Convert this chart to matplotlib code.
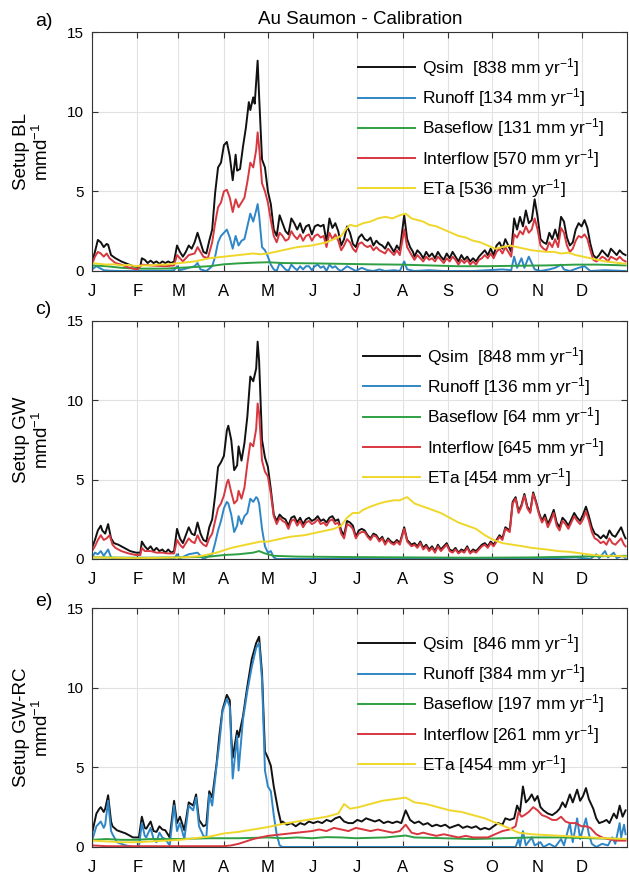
import matplotlib
matplotlib.use('Agg')
import matplotlib.pyplot as plt

plt.rcParams['font.family'] = ['Liberation Sans', 'DejaVu Sans']
plt.rcParams['mathtext.fontset'] = 'custom'
plt.rcParams['mathtext.rm'] = 'Liberation Sans'
plt.rcParams['mathtext.default'] = 'regular'

# month starts (day of year) and labels
month_days = [0, 31, 59, 90, 120, 151, 181, 212, 243, 273, 304, 334]
month_labels = ['J', 'F', 'M', 'A', 'M', 'J', 'J', 'A', 'S', 'O', 'N', 'D']

series_names = ['Qsim ', 'Runoff', 'Baseflow', 'Interflow', 'ETa']
colors = ['#111111', '#2f86c6', '#2ea043', '#d8373f', '#efd72a']

# ---- a) Setup BL  (day, mm/d) ----
bl_qsim = [(0, 0.5), (2, 1.2), (4, 1.95), (6, 1.8), (8, 1.5), (10, 1.7), (11, 1.65), (13, 1.0), (16, 0.8),
           (20, 0.6), (24, 0.45), (28, 0.3), (31, 0.25), (33, 0.3), (34, 0.8), (36, 0.7), (38, 0.5), (40, 0.65),
           (42, 0.5), (44, 0.6), (46, 0.45), (48, 0.6), (50, 0.5), (52, 0.6), (54, 0.5), (56, 0.6), (58, 1.6),
           (60, 1.2), (62, 0.9), (64, 1.2), (66, 1.6), (68, 1.4), (70, 1.8), (72, 2.4), (74, 1.8), (76, 1.2),
           (78, 1.1), (80, 1.9), (82, 2.6), (84, 4.9), (86, 6.5), (88, 6.8), (90, 7.9), (92, 8.1), (94, 7.2),
           (96, 5.7), (98, 7.3), (99, 6.3), (101, 6.4), (103, 7.8), (105, 9.0), (107, 10.6), (108, 10.1),
           (110, 10.9), (111, 10.5), (113, 13.2), (114, 11.0), (116, 7.0), (118, 6.5), (120, 5.0), (122, 4.2),
           (124, 2.6), (126, 2.2), (128, 3.5), (130, 3.0), (132, 2.5), (134, 2.3), (136, 3.3), (138, 3.0),
           (140, 2.6), (142, 3.0), (144, 2.4), (146, 2.8), (148, 2.9), (150, 2.3), (152, 2.8), (154, 2.9),
           (156, 2.8), (158, 2.9), (160, 1.8), (162, 3.3), (164, 2.7), (166, 3.0), (168, 2.5), (170, 1.6),
           (172, 2.0), (174, 2.8), (176, 2.4), (178, 1.7), (180, 1.5), (182, 2.1), (184, 2.3), (186, 2.0),
           (188, 1.9), (190, 2.1), (192, 1.6), (194, 1.9), (196, 1.7), (198, 1.6), (200, 1.4), (202, 1.8),
           (204, 1.5), (206, 1.2), (208, 1.6), (210, 1.3), (213, 3.5), (215, 2.0), (217, 1.5), (219, 1.2),
           (220, 0.9), (222, 1.3), (224, 1.1), (226, 0.8), (228, 1.2), (230, 0.9), (232, 1.1), (234, 0.8),
           (236, 1.2), (238, 0.9), (240, 0.7), (242, 1.1), (244, 0.8), (246, 1.2), (248, 0.9), (250, 0.6),
           (252, 1.0), (254, 0.7), (256, 0.9), (258, 0.6), (260, 0.8), (262, 0.6), (264, 0.9), (266, 1.1),
           (268, 1.3), (270, 1.0), (272, 1.4), (274, 1.0), (276, 1.6), (278, 1.8), (280, 1.4), (282, 2.0),
           (284, 1.6), (286, 1.2), (288, 3.3), (290, 2.6), (292, 3.4), (294, 2.8), (296, 3.8), (298, 3.0),
           (300, 3.2), (302, 4.5), (304, 3.4), (306, 2.0), (308, 1.8), (310, 1.7), (312, 2.4), (314, 2.0),
           (316, 2.6), (318, 2.0), (320, 3.4), (322, 3.1), (324, 2.1), (326, 1.6), (328, 1.8), (330, 2.6),
           (332, 3.0), (334, 2.8), (336, 3.2), (338, 2.7), (340, 1.7), (342, 1.0), (344, 0.8), (346, 1.0),
           (348, 1.3), (350, 1.1), (352, 0.9), (354, 1.4), (356, 1.2), (358, 1.0), (360, 1.3), (362, 1.1),
           (364, 1.0)]
bl_runoff = [(0, 0.1), (3, 0.3), (5, 0.2), (8, 0.05), (12, 0.02), (20, 0.0), (30, 0.0), (40, 0.02), (50, 0.0),
             (56, 0.05), (58, 0.3), (60, 0.05), (66, 0.2), (70, 0.3), (72, 0.5), (74, 0.1), (78, 0.0),
             (82, 0.3), (84, 0.9), (86, 1.8), (88, 2.2), (90, 2.4), (92, 2.6), (94, 2.1), (96, 1.4), (98, 2.2),
             (100, 1.6), (102, 1.9), (104, 2.0), (106, 2.8), (108, 3.6), (110, 3.1), (112, 3.8), (113, 4.2),
             (114, 3.5), (116, 1.5), (118, 1.3), (120, 0.9), (122, 0.4), (124, 0.1), (126, 0.0), (128, 0.5),
             (130, 0.3), (132, 0.1), (134, 0.0), (136, 0.4), (138, 0.2), (140, 0.05), (142, 0.3), (144, 0.1),
             (146, 0.3), (148, 0.3), (150, 0.05), (152, 0.3), (154, 0.4), (156, 0.2), (158, 0.3), (160, 0.0),
             (162, 0.4), (164, 0.2), (166, 0.3), (168, 0.1), (170, 0.0), (174, 0.3), (176, 0.2), (180, 0.0),
             (184, 0.2), (188, 0.05), (192, 0.0), (196, 0.1), (200, 0.0), (206, 0.05), (210, 0.0), (213, 0.6),
             (215, 0.1), (220, 0.0), (230, 0.05), (240, 0.0), (250, 0.0), (260, 0.0), (270, 0.05), (280, 0.1),
             (286, 0.05), (288, 0.9), (290, 0.2), (293, 0.8), (295, 0.2), (298, 0.9), (300, 0.5), (302, 0.1),
             (306, 0.0), (312, 0.1), (316, 0.2), (320, 0.4), (322, 0.1), (326, 0.0), (332, 0.2), (336, 0.3),
             (340, 0.0), (350, 0.05), (364, 0.0)]
bl_base = [(0, 0.35), (10, 0.3), (20, 0.2), (30, 0.15), (40, 0.15), (50, 0.15), (60, 0.2), (70, 0.25),
           (80, 0.3), (90, 0.42), (100, 0.48), (110, 0.52), (120, 0.55), (130, 0.5), (150, 0.48), (170, 0.45),
           (190, 0.42), (210, 0.4), (230, 0.35), (250, 0.3), (270, 0.3), (290, 0.33), (310, 0.35), (330, 0.4),
           (345, 0.4), (364, 0.35)]
bl_inter = [(0, 0.4), (2, 0.9), (4, 1.2), (6, 1.1), (8, 0.9), (10, 1.1), (12, 0.8), (16, 0.5), (20, 0.4),
            (24, 0.25), (28, 0.15), (31, 0.1), (34, 0.4), (40, 0.35), (50, 0.3), (56, 0.35), (58, 1.0),
            (62, 0.6), (66, 1.0), (70, 1.1), (72, 1.5), (76, 0.9), (79, 0.8), (82, 1.8), (84, 3.0), (86, 4.0),
            (88, 4.3), (90, 5.0), (92, 5.1), (94, 4.6), (96, 3.7), (98, 4.5), (100, 4.0), (102, 4.3),
            (104, 4.6), (106, 5.6), (108, 6.8), (110, 6.5), (112, 7.6), (113, 8.7), (114, 7.8), (116, 5.5),
            (118, 5.0), (120, 4.3), (122, 3.2), (124, 2.2), (126, 1.8), (128, 2.4), (130, 2.2), (132, 1.9),
            (134, 2.0), (136, 2.5), (138, 2.2), (140, 2.0), (142, 2.3), (144, 1.9), (146, 2.2), (148, 2.3),
            (150, 1.9), (152, 2.2), (154, 2.3), (156, 2.1), (158, 2.2), (160, 1.5), (162, 2.4), (164, 2.0),
            (166, 2.3), (168, 1.9), (170, 1.3), (172, 1.6), (174, 2.0), (176, 1.8), (178, 1.4), (180, 1.2),
            (182, 1.7), (184, 1.8), (186, 1.6), (188, 1.5), (190, 1.6), (192, 1.3), (194, 1.5), (196, 1.3),
            (198, 1.2), (200, 1.1), (202, 1.4), (204, 1.2), (206, 1.0), (208, 1.3), (210, 1.0), (213, 2.6),
            (215, 1.5), (218, 1.0), (220, 0.7), (222, 1.0), (224, 0.8), (226, 0.6), (228, 0.9), (230, 0.7),
            (232, 0.8), (234, 0.6), (236, 0.9), (238, 0.7), (240, 0.5), (242, 0.8), (244, 0.6), (246, 0.9),
            (248, 0.7), (250, 0.4), (252, 0.7), (254, 0.5), (256, 0.7), (258, 0.4), (260, 0.6), (262, 0.4),
            (264, 0.7), (266, 0.8), (268, 1.0), (270, 0.8), (272, 1.1), (274, 0.8), (276, 1.2), (278, 1.4),
            (280, 1.1), (282, 1.5), (284, 1.2), (286, 0.9), (288, 2.3), (290, 2.1), (292, 2.5), (294, 2.3),
            (296, 2.8), (298, 2.4), (300, 2.6), (302, 3.3), (304, 2.6), (306, 1.6), (308, 1.4), (310, 1.3),
            (312, 1.8), (314, 1.5), (316, 2.0), (318, 1.5), (320, 2.7), (322, 2.4), (324, 1.6), (326, 1.2),
            (328, 1.4), (330, 1.9), (332, 2.2), (334, 2.1), (336, 2.3), (338, 2.0), (340, 1.3), (342, 0.7),
            (344, 0.6), (346, 0.7), (348, 0.9), (350, 0.8), (352, 0.6), (354, 0.9), (356, 0.8), (358, 0.7),
            (360, 0.9), (362, 0.7), (364, 0.6)]
bl_eta = [(0, 0.5), (5, 0.45), (10, 0.4), (15, 0.42), (20, 0.35), (25, 0.38), (30, 0.3), (35, 0.35), (40, 0.35),
          (45, 0.4), (50, 0.4), (55, 0.45), (60, 0.5), (65, 0.55), (70, 0.6), (75, 0.7), (80, 0.8), (85, 0.85),
          (90, 0.9), (95, 0.95), (100, 1.0), (105, 1.05), (110, 1.1), (115, 1.05), (120, 1.1), (125, 1.2),
          (130, 1.3), (135, 1.4), (140, 1.5), (145, 1.55), (150, 1.6), (155, 1.7), (160, 1.8), (165, 2.0),
          (170, 2.2), (173, 2.6), (176, 2.9), (180, 2.8), (185, 3.0), (190, 3.1), (195, 3.3), (200, 3.4),
          (205, 3.3), (210, 3.5), (214, 3.6), (218, 3.3), (222, 3.2), (226, 3.1), (230, 2.9), (235, 2.8),
          (240, 2.6), (245, 2.4), (250, 2.2), (255, 2.1), (260, 1.9), (265, 1.8), (270, 1.6), (275, 1.4),
          (280, 1.5), (285, 1.6), (290, 1.5), (295, 1.4), (300, 1.3), (305, 1.25), (310, 1.2), (315, 1.2),
          (320, 1.1), (325, 1.15), (330, 1.0), (335, 0.9), (340, 0.8), (345, 0.7), (350, 0.6), (355, 0.55),
          (364, 0.45)]

# ---- c) Setup GW ----
gw_qsim = [(0, 0.7), (2, 1.2), (4, 1.8), (6, 2.1), (7, 1.8), (9, 1.6), (11, 2.2), (13, 1.3), (15, 1.0),
           (18, 0.9), (22, 0.7), (26, 0.5), (30, 0.4), (33, 0.4), (34, 1.1), (36, 0.8), (38, 0.6), (40, 0.8),
           (42, 0.5), (44, 0.7), (46, 0.5), (48, 0.6), (50, 0.4), (52, 0.6), (54, 0.4), (56, 0.5), (58, 1.9),
           (60, 1.3), (62, 1.0), (64, 1.5), (66, 2.0), (68, 1.6), (70, 1.5), (72, 2.3), (74, 1.6), (76, 1.2),
           (78, 1.1), (80, 2.0), (82, 2.5), (84, 4.0), (86, 5.8), (88, 6.1), (90, 6.5), (92, 8.1), (93, 8.4),
           (95, 7.5), (97, 5.6), (99, 5.9), (100, 7.1), (102, 6.2), (104, 7.3), (106, 9.0), (108, 11.5),
           (110, 11.2), (112, 12.0), (113, 13.7), (114, 12.5), (116, 7.5), (118, 6.4), (120, 5.8), (122, 4.4),
           (124, 2.8), (126, 2.4), (128, 2.8), (130, 2.6), (132, 2.5), (134, 2.1), (136, 2.6), (138, 2.7),
           (140, 2.3), (142, 2.6), (144, 2.2), (146, 2.5), (148, 2.6), (150, 2.4), (152, 2.5), (154, 2.7),
           (156, 2.4), (158, 2.5), (160, 2.3), (162, 2.6), (164, 2.7), (166, 2.4), (168, 2.5), (170, 1.8),
           (172, 1.5), (174, 2.4), (176, 2.3), (178, 2.1), (180, 1.4), (182, 1.8), (184, 1.9), (186, 1.8),
           (188, 1.5), (190, 1.3), (192, 1.6), (194, 1.5), (196, 1.2), (198, 1.4), (200, 1.0), (202, 1.3),
           (204, 1.1), (206, 1.0), (208, 1.2), (210, 1.0), (213, 2.0), (215, 1.2), (218, 0.9), (220, 1.0),
           (222, 0.8), (224, 1.1), (226, 0.7), (228, 0.9), (230, 0.6), (232, 0.8), (234, 0.5), (236, 0.9),
           (238, 0.6), (240, 0.8), (242, 1.0), (244, 0.6), (246, 0.5), (248, 0.7), (250, 0.4), (252, 0.6),
           (254, 0.5), (256, 0.8), (258, 0.4), (260, 0.6), (262, 0.5), (264, 0.7), (266, 0.9), (268, 1.0),
           (270, 0.8), (272, 1.1), (274, 0.9), (276, 1.2), (278, 1.5), (280, 1.3), (282, 2.0), (285, 1.8),
           (287, 3.6), (289, 3.9), (291, 3.0), (293, 3.4), (295, 4.1), (297, 3.3), (299, 3.0), (301, 4.2),
           (303, 3.6), (305, 2.9), (307, 2.4), (309, 2.8), (311, 2.2), (313, 2.6), (315, 3.1), (317, 2.3),
           (319, 2.0), (321, 2.6), (323, 2.4), (325, 2.1), (327, 2.5), (329, 2.9), (331, 2.6), (333, 2.4),
           (335, 2.8), (337, 3.3), (339, 2.7), (341, 2.0), (343, 1.6), (345, 1.5), (347, 1.3), (349, 1.5),
           (351, 1.3), (353, 1.8), (355, 1.5), (357, 1.4), (359, 1.7), (361, 2.0), (363, 1.5), (364, 1.3)]
gw_runoff = [(0, 0.1), (2, 0.4), (4, 0.3), (6, 0.5), (8, 0.2), (11, 0.6), (13, 0.1), (16, 0.0), (30, 0.0),
             (56, 0.0), (58, 0.3), (60, 0.05), (66, 0.3), (72, 0.4), (76, 0.0), (82, 0.3), (84, 1.0), (86, 1.8),
             (88, 2.4), (90, 3.2), (92, 3.6), (93, 3.5), (95, 2.8), (97, 1.7), (99, 2.1), (100, 2.7), (102, 2.2),
             (104, 2.7), (106, 2.9), (108, 3.8), (110, 3.6), (112, 3.9), (113, 3.8), (114, 3.5), (116, 1.9),
             (118, 0.8), (120, 0.4), (122, 0.5), (124, 0.1), (126, 0.0), (200, 0.0), (280, 0.0), (300, 0.0),
             (330, 0.1), (340, 0.0), (344, 0.3), (346, 0.05), (350, 0.5), (352, 0.1), (356, 0.4), (358, 0.05),
             (362, 0.2), (364, 0.05)]
gw_base = [(0, 0.1), (30, 0.08), (60, 0.1), (80, 0.15), (90, 0.25), (100, 0.3), (110, 0.4), (114, 0.5),
           (118, 0.35), (124, 0.2), (140, 0.15), (180, 0.12), (220, 0.1), (260, 0.08), (300, 0.1), (330, 0.15),
           (364, 0.2)]
gw_inter = [(0, 0.5), (2, 0.8), (4, 1.2), (6, 1.5), (8, 1.2), (10, 1.3), (12, 1.5), (14, 0.9), (16, 0.7),
            (20, 0.5), (25, 0.35), (30, 0.25), (33, 0.25), (34, 0.7), (36, 0.5), (40, 0.5), (44, 0.4), (48, 0.4),
            (52, 0.35), (56, 0.35), (58, 1.2), (60, 0.9), (62, 0.7), (64, 1.0), (66, 1.3), (68, 1.1), (70, 1.0),
            (72, 1.5), (74, 1.1), (76, 0.9), (78, 0.8), (80, 1.3), (82, 1.6), (84, 2.4), (86, 3.2), (88, 3.5),
            (90, 4.0), (92, 4.8), (93, 5.0), (95, 4.2), (97, 3.5), (99, 3.7), (100, 4.3), (102, 3.8), (104, 4.5),
            (106, 6.0), (108, 7.3), (110, 7.1), (112, 8.2), (113, 9.8), (114, 9.2), (116, 6.2), (118, 5.5),
            (120, 5.2), (122, 4.1), (124, 2.7), (126, 2.2), (128, 2.6), (130, 2.4), (132, 2.3), (134, 1.9),
            (136, 2.4), (138, 2.5), (140, 2.1), (142, 2.4), (144, 2.0), (146, 2.3), (148, 2.4), (150, 2.2),
            (152, 2.3), (154, 2.5), (156, 2.2), (158, 2.3), (160, 2.1), (162, 2.4), (164, 2.5), (166, 2.2),
            (168, 2.3), (170, 1.6), (172, 1.3), (174, 2.2), (176, 2.1), (178, 1.9), (180, 1.3), (182, 1.6),
            (184, 1.7), (186, 1.7), (188, 1.4), (190, 1.2), (192, 1.5), (194, 1.4), (196, 1.1), (198, 1.3),
            (200, 0.9), (202, 1.2), (204, 1.0), (206, 0.9), (208, 1.1), (210, 0.9), (213, 1.9), (215, 1.1),
            (218, 0.8), (220, 0.9), (222, 0.7), (224, 1.0), (226, 0.6), (228, 0.8), (230, 0.5), (232, 0.7),
            (234, 0.4), (236, 0.8), (238, 0.5), (240, 0.7), (242, 0.9), (244, 0.5), (246, 0.4), (248, 0.6),
            (250, 0.35), (252, 0.5), (254, 0.4), (256, 0.7), (258, 0.35), (260, 0.5), (262, 0.4), (264, 0.6),
            (266, 0.8), (268, 0.9), (270, 0.7), (272, 1.0), (274, 0.8), (276, 1.1), (278, 1.4), (280, 1.2),
            (282, 1.9), (285, 1.7), (287, 3.5), (289, 3.8), (291, 2.9), (293, 3.3), (295, 4.0), (297, 3.2),
            (299, 2.9), (301, 4.1), (303, 3.5), (305, 2.8), (307, 2.3), (309, 2.6), (311, 2.0), (313, 2.4),
            (315, 2.9), (317, 2.1), (319, 1.8), (321, 2.4), (323, 2.2), (325, 1.9), (327, 2.3), (329, 2.7),
            (331, 2.4), (333, 2.2), (335, 2.5), (337, 3.0), (339, 2.4), (341, 1.7), (343, 1.3), (345, 1.2),
            (347, 1.0), (349, 1.1), (351, 0.9), (353, 1.3), (355, 1.0), (357, 0.9), (359, 1.1), (361, 1.3),
            (363, 0.9), (364, 0.8)]
gw_eta = [(0, 0.1), (15, 0.08), (30, 0.05), (45, 0.07), (60, 0.1), (70, 0.15), (75, 0.2), (80, 0.3), (85, 0.4),
          (90, 0.55), (95, 0.7), (100, 0.8), (105, 0.9), (110, 1.0), (115, 1.1), (120, 1.1), (125, 1.2),
          (130, 1.3), (135, 1.4), (140, 1.45), (145, 1.5), (150, 1.6), (155, 1.7), (160, 1.8), (165, 1.9),
          (170, 2.1), (174, 2.6), (178, 2.9), (182, 2.9), (185, 3.1), (190, 3.3), (196, 3.5), (200, 3.6),
          (206, 3.7), (210, 3.7), (215, 3.9), (220, 3.5), (226, 3.3), (232, 3.1), (238, 2.9), (244, 2.6),
          (250, 2.3), (256, 2.1), (262, 1.9), (268, 1.5), (274, 1.2), (280, 1.0), (287, 0.9), (294, 0.8),
          (300, 0.7), (310, 0.6), (318, 0.5), (326, 0.45), (334, 0.35), (342, 0.25), (350, 0.2), (358, 0.2),
          (364, 0.15)]

# ---- e) Setup GW-RC ----
rc_qsim = [(0, 0.85), (3, 2.1), (5, 2.4), (6, 2.5), (8, 2.2), (9, 2.4), (11, 3.25), (13, 1.6), (14, 1.3),
           (17, 1.05), (20, 0.95), (23, 0.85), (26, 0.7), (28, 0.6), (32, 0.6), (34, 1.9), (36, 1.2), (37, 1.15),
           (40, 1.6), (42, 1.0), (44, 0.95), (46, 1.3), (48, 1.1), (50, 1.05), (53, 0.6), (56, 2.9), (58, 1.5),
           (60, 1.9), (63, 1.05), (66, 2.8), (69, 2.6), (71, 3.3), (73, 1.7), (76, 1.3), (78, 1.4), (80, 3.5),
           (82, 3.1), (85, 5.25), (87, 7.1), (89, 8.6), (92, 9.55), (94, 9.2), (95, 6.9), (96, 5.6), (99, 7.3),
           (100, 6.9), (103, 8.2), (106, 10.1), (109, 11.8), (112, 12.8), (114, 13.2), (116, 10.9), (118, 6.0),
           (120, 5.6), (122, 5.1), (124, 3.8), (127, 2.3), (129, 1.5), (130, 1.6), (133, 1.4), (136, 1.5),
           (139, 1.3), (142, 1.5), (145, 1.4), (148, 1.6), (151, 1.5), (154, 1.6), (157, 1.5), (160, 1.7),
           (163, 1.6), (166, 1.8), (169, 1.9), (172, 1.6), (175, 1.5), (178, 1.5), (181, 1.7), (184, 1.6),
           (187, 1.8), (190, 1.7), (193, 1.6), (196, 1.7), (199, 1.5), (202, 1.6), (205, 1.5), (208, 1.6),
           (211, 1.5), (214, 2.3), (217, 1.7), (220, 1.5), (223, 1.6), (226, 1.4), (229, 1.5), (232, 1.3),
           (235, 1.4), (238, 1.3), (241, 1.4), (244, 1.2), (247, 1.3), (250, 1.4), (253, 1.2), (256, 1.3),
           (259, 1.2), (262, 1.3), (265, 1.1), (268, 1.2), (271, 1.1), (274, 1.3), (277, 1.5), (280, 1.4),
           (282, 1.8), (285, 1.7), (288, 1.8), (290, 2.6), (292, 2.2), (294, 3.8), (296, 2.8), (298, 3.0),
           (300, 3.3), (302, 2.9), (304, 3.2), (306, 2.5), (308, 2.3), (311, 2.1), (314, 2.0), (317, 2.2),
           (319, 2.4), (321, 2.8), (323, 2.5), (326, 3.3), (328, 2.8), (331, 3.6), (333, 2.9), (335, 3.2),
           (337, 3.7), (339, 3.0), (342, 2.4), (344, 1.8), (346, 1.5), (349, 1.6), (351, 1.7), (353, 1.5),
           (356, 2.1), (358, 1.8), (360, 2.6), (362, 1.9), (364, 2.3)]
rc_runoff = [(0, 0.4), (3, 1.3), (5, 1.5), (6, 1.6), (8, 1.2), (9, 1.4), (11, 2.9), (13, 1.0), (14, 0.8),
             (17, 0.3), (20, 0.2), (23, 0.1), (28, 0.0), (32, 0.0), (34, 1.5), (36, 0.7), (37, 0.6), (40, 1.2),
             (42, 0.5), (44, 0.3), (46, 0.9), (48, 0.6), (50, 0.5), (53, 0.1), (56, 2.6), (58, 1.0), (60, 1.5),
             (63, 0.5), (66, 2.6), (69, 2.3), (71, 3.1), (73, 1.3), (76, 0.7), (78, 0.6), (80, 3.3), (82, 2.6),
             (85, 5.1), (87, 6.6), (89, 8.5), (92, 9.3), (94, 8.8), (95, 6.5), (96, 4.3), (99, 7.0), (100, 4.8),
             (103, 8.0), (106, 9.8), (109, 11.3), (112, 12.5), (114, 12.8), (116, 10.5), (118, 4.8), (120, 3.8),
             (122, 3.5), (124, 2.0), (126, 0.8), (128, 0.1), (130, 0.0), (200, 0.0), (289, 0.0), (291, 0.5),
             (292, 0.05), (294, 1.0), (296, 0.1), (300, 0.6), (302, 0.1), (306, 0.3), (308, 0.0), (312, 0.2),
             (316, 0.0), (320, 0.5), (322, 0.1), (326, 1.5), (328, 0.3), (331, 1.8), (333, 0.5), (337, 1.8),
             (339, 0.8), (341, 0.2), (344, 0.0), (348, 0.2), (352, 0.1), (355, 0.6), (357, 0.2), (360, 1.5),
             (361, 0.6), (363, 1.4), (364, 0.8)]
rc_base = [(0, 0.45), (10, 0.5), (20, 0.45), (30, 0.45), (40, 0.5), (60, 0.5), (80, 0.55), (100, 0.55),
           (120, 0.6), (130, 0.55), (140, 0.6), (150, 0.55), (160, 0.62), (170, 0.6), (180, 0.55), (200, 0.6),
           (214, 0.72), (220, 0.6), (240, 0.55), (260, 0.5), (280, 0.55), (300, 0.6), (320, 0.6), (340, 0.55),
           (364, 0.5)]
rc_inter = [(0, 0.1), (10, 0.05), (20, 0.05), (50, 0.05), (80, 0.05), (90, 0.05), (95, 0.1), (100, 0.2),
            (105, 0.35), (110, 0.5), (115, 0.6), (120, 0.7), (125, 0.75), (130, 0.8), (135, 0.85), (140, 0.9),
            (145, 0.95), (150, 1.0), (155, 1.1), (160, 1.0), (165, 1.2), (170, 1.1), (175, 1.0), (180, 1.2),
            (185, 1.1), (190, 1.0), (195, 1.1), (200, 1.0), (205, 0.9), (210, 1.0), (214, 1.4), (218, 0.9),
            (222, 0.8), (226, 0.9), (230, 0.8), (235, 0.7), (240, 0.8), (245, 0.7), (250, 0.6), (255, 0.7),
            (260, 0.6), (265, 0.6), (270, 0.6), (275, 0.8), (280, 1.0), (285, 1.1), (289, 1.3), (291, 2.2),
            (293, 1.9), (295, 2.0), (298, 2.2), (301, 2.5), (304, 2.3), (307, 2.0), (310, 1.9), (314, 1.7),
            (317, 1.7), (320, 1.9), (323, 1.6), (326, 1.5), (330, 1.5), (334, 1.3), (337, 1.3), (340, 1.2),
            (344, 0.8), (348, 0.6), (352, 0.5), (358, 0.4), (364, 0.4)]
rc_eta = [(0, 0.4), (10, 0.35), (20, 0.3), (30, 0.3), (40, 0.35), (50, 0.4), (60, 0.45), (70, 0.55), (80, 0.65),
          (90, 0.85), (100, 0.95), (110, 1.1), (120, 1.25), (130, 1.45), (140, 1.6), (150, 1.75), (160, 1.9),
          (168, 2.1), (172, 2.7), (176, 2.4), (182, 2.5), (190, 2.7), (198, 2.9), (206, 3.0), (214, 3.1),
          (220, 2.8), (228, 2.7), (236, 2.5), (244, 2.3), (252, 2.2), (260, 2.0), (268, 1.8), (276, 1.5),
          (284, 1.2), (291, 0.9), (300, 0.8), (310, 0.75), (320, 0.7), (330, 0.65), (340, 0.6), (350, 0.55),
          (364, 0.5)]

bl_totals = [838, 134, 131, 570, 536]
gw_totals = [848, 136, 64, 645, 454]
rc_totals = [846, 384, 197, 261, 454]

panels = [
    ('a)', 'Setup BL', [bl_qsim, bl_runoff, bl_base, bl_inter, bl_eta], bl_totals, 0.497),
    ('c)', 'Setup GW', [gw_qsim, gw_runoff, gw_base, gw_inter, gw_eta], gw_totals, 0.506),
    ('e)', 'Setup GW-RC', [rc_qsim, rc_runoff, rc_base, rc_inter, rc_eta], rc_totals, 0.497),
]

fig = plt.figure(figsize=(6.29, 8.77), dpi=100)
W, H = 629, 877
axes_px = [(32, 271), (321, 559), (608, 847)]
letter_y = [21, 309, 601]

for (letter, setup, data, totals, leg_x), (top, bot), ly in zip(panels, axes_px, letter_y):
    ax = fig.add_axes([92 / W, 1 - bot / H, 535 / W, (bot - top) / H])
    for name, pts, c, tot in zip(series_names, data, colors, totals):
        days, vals = zip(*pts)
        ax.plot(days, vals, color=c, lw=1.4, label=f'{name} [{tot} mm yr$^{{-1}}$]')
    ax.set_xlim(0, 365)
    ax.set_ylim(0, 15)
    ax.set_yticks([0, 5, 10, 15])
    ax.set_xticks(month_days)
    ax.set_xticklabels(month_labels)
    ax.grid(True, color='#e2e2e2', lw=0.8)
    ax.set_axisbelow(True)
    ax.tick_params(direction='in', top=True, right=True, length=4, width=0.8, color='#333333',
                   labelsize=11, pad=6)
    ax.tick_params(axis='x', labelsize=12, pad=9)
    for sp in ax.spines.values():
        sp.set_color('#333333')
        sp.set_linewidth(0.8)
    ax.set_ylabel(setup + '\nmmd$^{-1}$', fontsize=13.5, linespacing=1.1)
    ax.yaxis.set_label_coords(-0.075, 0.5)
    ax.legend(loc='upper left', bbox_to_anchor=(leg_x, 0.899), frameon=False, fontsize=12.5,
              handlelength=3.3, handletextpad=0.4, labelspacing=0.42, borderpad=0, borderaxespad=0)
    fig.text(35 / W, 1 - ly / H, letter, fontsize=14, va='center', ha='left')

fig.text(360 / W, 1 - 19 / H, 'Au Saumon - Calibration', fontsize=13.5, ha='center', va='center')

fig.savefig('out.png', dpi=100)
